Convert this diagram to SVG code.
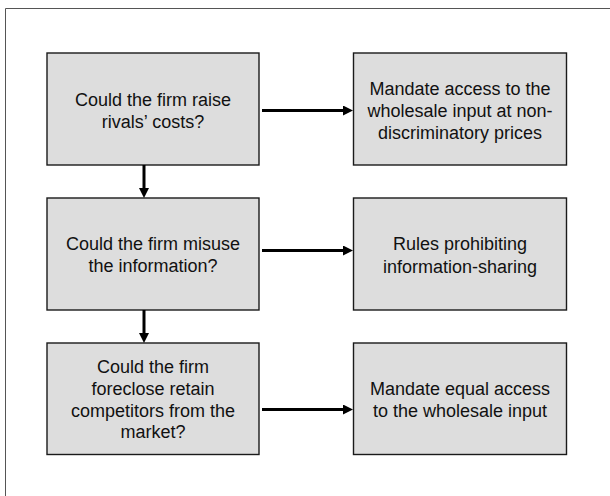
<svg xmlns="http://www.w3.org/2000/svg" width="610" height="496" viewBox="0 0 610 496">
  <defs>
    <style>
      .box { fill: #dddddd; stroke: #1a1a1a; stroke-width: 1.4; }
      .lbl { font-family: "Liberation Sans", Arial, sans-serif; font-size: 18px; fill: #111111; text-anchor: middle; }
      .conn { stroke: #000000; stroke-width: 3; fill: none; }
    </style>
    <marker id="arrow" markerUnits="userSpaceOnUse" markerWidth="11" markerHeight="11" refX="0" refY="5" orient="auto">
      <path d="M0,0 L10,5 L0,10 z" fill="#000000"/>
    </marker>
  </defs>
  <rect width="610" height="496" fill="#ffffff"/>
  <path d="M5.5,500 V8.5 H615" fill="none" stroke="#555555" stroke-width="1"/>

  <g id="q1">
    <rect class="box" x="47" y="53" width="212" height="112"/>
    <text class="lbl" x="153" y="106">Could the firm raise</text>
    <text class="lbl" x="153" y="128">rivals’ costs?</text>
  </g>
  <g id="a1">
    <rect class="box" x="353.5" y="53" width="213" height="112"/>
    <text class="lbl" x="460" y="95">Mandate access to the</text>
    <text class="lbl" x="460" y="117">wholesale input at non-</text>
    <text class="lbl" x="460" y="138.5">discriminatory prices</text>
  </g>
  <g id="q2">
    <rect class="box" x="47" y="198" width="212" height="112"/>
    <text class="lbl" x="153" y="249.5">Could the firm misuse</text>
    <text class="lbl" x="153" y="271.5">the information?</text>
  </g>
  <g id="a2">
    <rect class="box" x="353.5" y="198" width="213" height="112"/>
    <text class="lbl" x="460" y="250">Rules prohibiting</text>
    <text class="lbl" x="460" y="272.5">information-sharing</text>
  </g>
  <g id="q3">
    <rect class="box" x="47" y="343" width="212" height="111.5"/>
    <text class="lbl" x="153" y="372.5">Could the firm</text>
    <text class="lbl" x="153" y="394.5">foreclose retain</text>
    <text class="lbl" x="153" y="416.5">competitors from the</text>
    <text class="lbl" x="153" y="438">market?</text>
  </g>
  <g id="a3">
    <rect class="box" x="353.5" y="343" width="213" height="111.5"/>
    <text class="lbl" x="460" y="395">Mandate equal access</text>
    <text class="lbl" x="460" y="417">to the wholesale input</text>
  </g>

  <g id="connectors">
    <line class="conn" x1="262" y1="110.5" x2="343" y2="110.5" marker-end="url(#arrow)"/>
    <line class="conn" x1="262" y1="250.5" x2="343" y2="250.5" marker-end="url(#arrow)"/>
    <line class="conn" x1="262" y1="409.5" x2="343" y2="409.5" marker-end="url(#arrow)"/>
    <line class="conn" x1="144" y1="165" x2="144" y2="188" marker-end="url(#arrow)"/>
    <line class="conn" x1="144" y1="310" x2="144" y2="333" marker-end="url(#arrow)"/>
  </g>
</svg>
